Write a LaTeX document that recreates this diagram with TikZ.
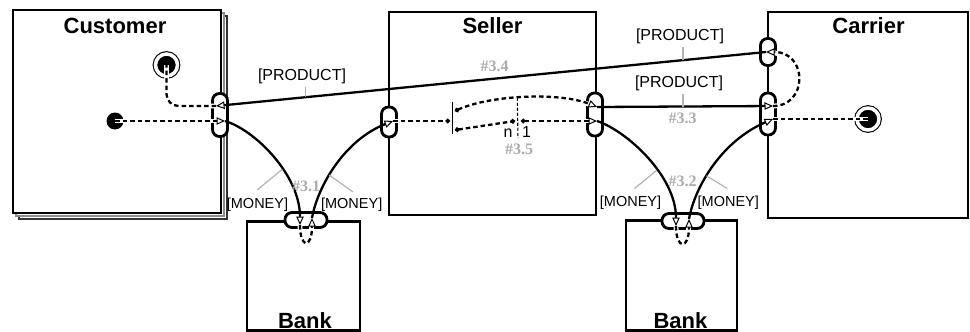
\documentclass[tikz,border=0pt]{standalone}
\usepackage{fontspec}
\setmainfont{Liberation Sans}
\newfontfamily\refnofont{Liberation Serif}
\usetikzlibrary{arrows.meta}

\tikzset{
  otri/.tip={Triangle[length=8.5pt,width=7.5pt,fill=white,line width=1pt]},
  bdot/.tip={Circle[length=4.5pt]},
}

\begin{document}
\begin{tikzpicture}[
  x=1pt, y=-1pt,
  party/.style={draw=black, line width=2.7pt, fill=white, inner sep=0pt},
  stackcopy/.style={draw=#1, line width=1.3pt, fill=white, inner sep=0pt},
  title/.style={font=\fontsize{22}{26}\selectfont\bfseries, anchor=base, inner sep=0pt},
  port/.style={draw=black, fill=white, line width=2.8pt, rounded corners=7pt, inner sep=0pt},
  startstate/.style={circle, fill=black, minimum size=17pt, inner sep=0pt},
  endstate/.style={circle, fill=black, draw=black, line width=1.1pt, double=white, double distance=3.5pt, minimum size=22pt, inner sep=0pt},
  msg/.style={line width=2.3pt},
  ctl/.style={line width=2.3pt, dash pattern=on 4.5pt off 3pt,
    preaction={draw=white, line width=4.8pt, solid, arrows=-}},
  corr/.style={line width=1.1pt, dash pattern=on 3pt off 2pt},
  tick/.style={draw=black!30, line width=1.2pt},
  lbl/.style={font=\fontsize{16}{19}\selectfont, anchor=base, inner sep=0pt},
  mlbl/.style={font=\fontsize{14.5}{17}\selectfont, anchor=base, inner sep=0pt},
  refno/.style={font=\refnofont\bfseries\fontsize{16}{19}\selectfont, text=black!33, anchor=base, inner sep=0pt},
]
\useasboundingbox (0,0) rectangle (970,332);

% roles (the customer role is a stack of instances)
\node[stackcopy=black!80, minimum width=208pt, minimum height=203pt] (custS2) at (123,117.5) {};
\node[stackcopy=black!45, minimum width=208pt, minimum height=203pt] (custS1) at (120,114.5) {};
\node[party, minimum width=208pt, minimum height=203pt] (cust) at (117,111.5) {};
\node[party, minimum width=207pt, minimum height=203pt] (seller) at (492.5,113.5) {};
\node[party, minimum width=200pt, minimum height=206pt] (carrier) at (868,115) {};
\node[party, minimum width=113pt, minimum height=109pt] (bank1) at (303.5,276) {};
\node[party, minimum width=111pt, minimum height=110pt] (bank2) at (681.5,275.5) {};

\node[title] (custT) at (115,33) {Customer};
\node[title] (sellerT) at (492.5,33) {Seller};
\node[title] (carrierT) at (868.5,33) {Carrier};
\node[title] (bank1T) at (305,328) {Bank};
\node[title] (bank2T) at (680.5,328) {Bank};

% ports
\node[port, minimum width=15pt, minimum height=43pt] (cp) at (220,115) {};
\node[port, minimum width=15pt, minimum height=30pt] (slp) at (389,122) {};
\node[port, minimum width=15pt, minimum height=43pt] (srp) at (595,114.5) {};
\node[port, minimum width=15pt, minimum height=27pt] (ctp) at (768,52) {};
\node[port, minimum width=15pt, minimum height=42pt] (cbp) at (768,114) {};
\node[port, minimum width=42pt, minimum height=15pt] (b1p) at (306,220) {};
\node[port, minimum width=42pt, minimum height=15pt] (b2p) at (683,221) {};

% states and the split bar
\node[startstate] (cs) at (115,121) {};
\node[endstate] (ce) at (166.5,65) {};
\node[endstate] (ke) at (868,119) {};
\node[fill=black, minimum width=1.6pt, minimum height=32pt, inner sep=0pt] (split) at (452.5,118) {};

% port points
\coordinate (cpIn) at (216,106);
\coordinate (cpOut) at (225,121);
\coordinate (b1In) at (300,225);
\coordinate (b1Out) at (312,218);
\coordinate (slIn) at (393,121);
\coordinate (srA) at (597,107);
\coordinate (srB) at (597,121);
\coordinate (b2In) at (676,226);
\coordinate (b2Out) at (689,219);
\coordinate (cbA) at (773,106);
\coordinate (cbB) at (773,119);
\coordinate (ctOut) at (766,52);
\coordinate (splitIn) at (450,121);
\coordinate (splitA) at (455,111);
\coordinate (splitB) at (455,130);
\coordinate (joinN) at (515,121);
\coordinate (join1) at (521,121);
\coordinate (corrEnd) at (518,138);

% flows
\draw[ctl,-otri] (cs.center) -- (cpOut);
\draw[msg,-otri] (cpOut) .. controls (255,130) and (300,175) .. (b1In) coordinate[pos=.6] (m1);
\draw[ctl,-otri] (b1In) .. controls (300,249) and (312,249) .. (b1Out);
\draw[msg,-otri] (b1Out) .. controls (318,185) and (345,140) .. (slIn) coordinate[pos=.4] (m2);
\draw[ctl,-bdot] (slIn) -- (splitIn);
\draw[ctl,bdot-otri] (splitA) .. controls (490,95) and (560,92) .. (srA) coordinate[pos=.45] (corrTop);
\draw[ctl,bdot-bdot] (splitB) -- (joinN);
\draw[ctl,bdot-otri] (join1) -- (srB);
\draw[corr] (corrTop) -- (corrEnd);
\draw[msg,-otri] (srA) -- (cbA) coordinate[pos=.489] (m3);
\draw[ctl,-otri] (cbA) .. controls (808,106) and (808,52) .. (ctOut);
\draw[msg,-otri] (ctOut) -- (cpIn) coordinate[pos=.151] (m4) coordinate[pos=.838] (m5);
\draw[ctl, rounded corners=12pt] (cpIn) -| (ce.center);
\draw[msg,-otri] (srB) .. controls (627,131) and (676,176) .. (b2In) coordinate[pos=.6] (m6);
\draw[ctl,-otri] (b2In) .. controls (676,250) and (689,250) .. (b2Out);
\draw[msg,-otri] (b2Out) .. controls (695,186) and (722,141) .. (cbB) coordinate[pos=.4] (m7);
\draw[ctl] (cbB) -- (ke.center);

% labels
\node[lbl] (pr1) at (302,80) {[PRODUCT]};
\node[lbl] (pr2) at (680,40) {[PRODUCT]};
\node[lbl] (pr3) at (679,87) {[PRODUCT]};
\node[mlbl] (mo1) at (257.5,208) {[MONEY]};
\node[mlbl] (mo2) at (351.7,208) {[MONEY]};
\node[mlbl] (mo3) at (630.5,206.5) {[MONEY]};
\node[mlbl] (mo4) at (728.3,206.5) {[MONEY]};
\node[refno] (r31) at (306,191.7) {\#3.1};
\node[refno] (r32) at (682.5,186.5) {\#3.2};
\node[refno] (r33) at (682.5,123) {\#3.3};
\node[refno] (r34) at (494.7,71.7) {\#3.4};
\node[refno] (r35) at (519,154.5) {\#3.5};
\node[lbl] (mulN) at (508,137) {n};
\node[lbl] (mul1) at (526.5,137) {1};

% label ticks
\coordinate (t1) at ([xshift=3.5pt,yshift=-7pt]pr1.base);
\coordinate (t2) at ([xshift=3pt,yshift=-7pt]pr2.base);
\coordinate (t3) at ([xshift=4pt,yshift=-7pt]pr3.base);
\draw[tick] (t1) -- (t1 |- m5);
\draw[tick] (t2) -- (t2 |- m4);
\draw[tick] (t3) -- (t3 |- m3);
\draw[tick] ([xshift=-0.5pt,yshift=18pt]mo1.base) -- (m1);
\draw[tick] ([xshift=1.3pt,yshift=16pt]mo2.base) -- (m2);
\draw[tick] ([xshift=4pt,yshift=18pt]mo3.base) -- (m6);
\draw[tick] ([xshift=-1pt,yshift=18pt]mo4.base) -- (m7);
\end{tikzpicture}
\end{document}
